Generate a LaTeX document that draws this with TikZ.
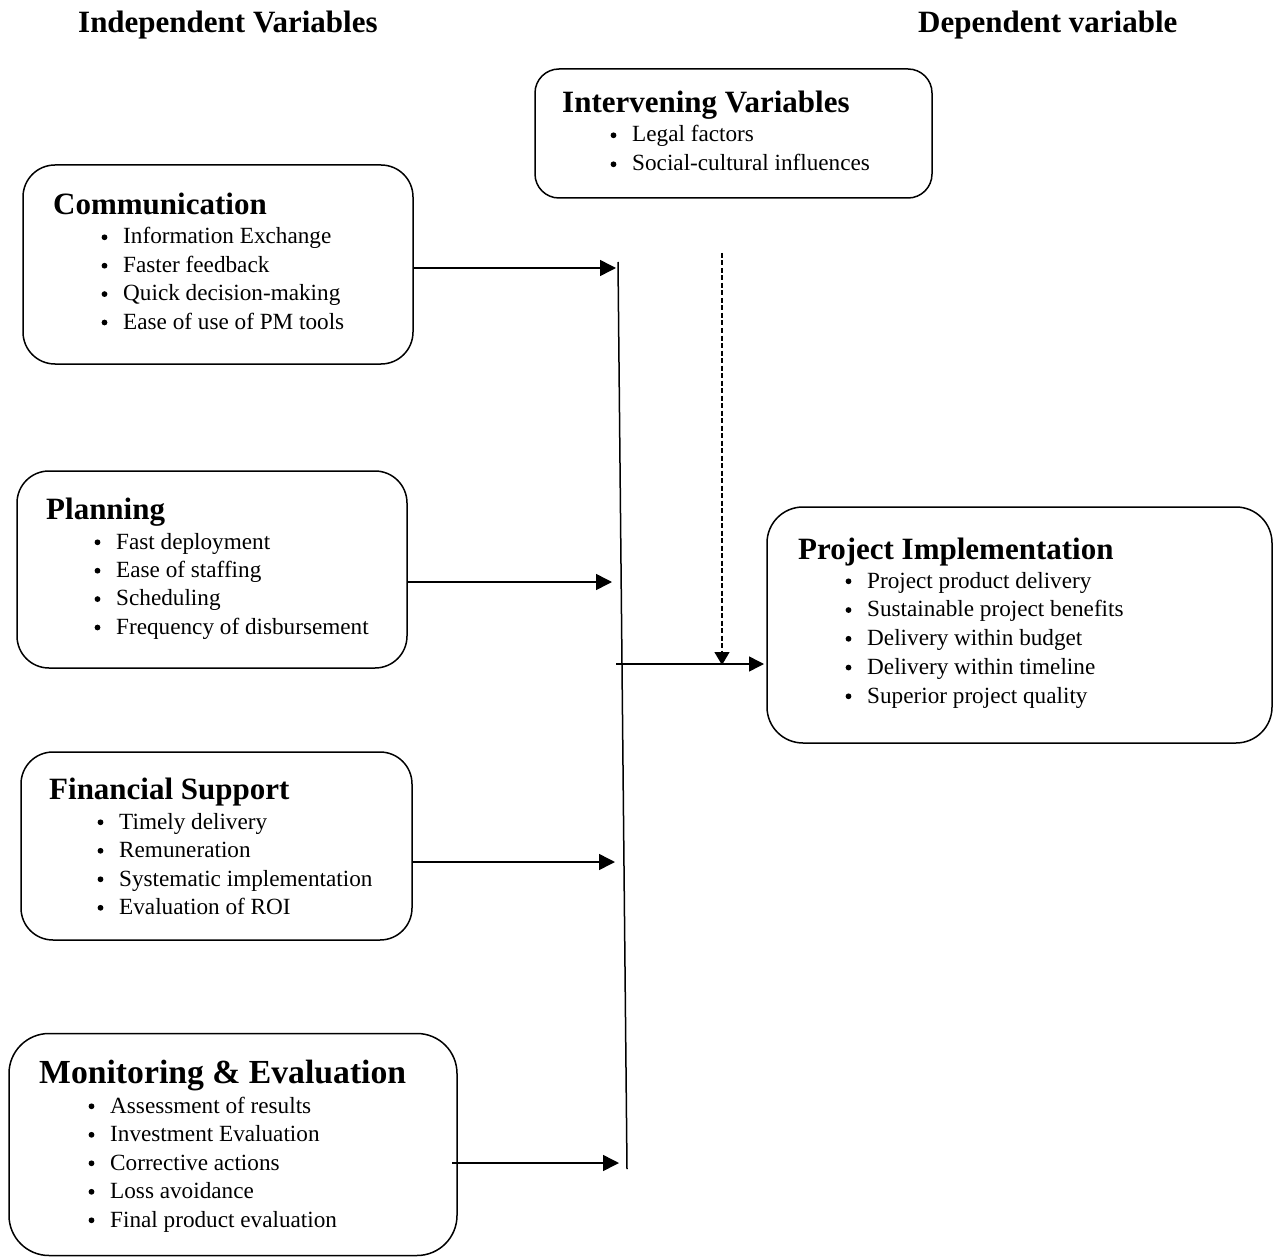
\documentclass[tikz,border=0pt]{standalone}
\usepackage{fontspec}
\setmainfont{Liberation Serif}
\usetikzlibrary{arrows.meta}
\tikzset{
  box/.style={draw, line width=1.5pt, rounded corners=32pt, inner sep=0pt, outer sep=0pt},
  hd/.style={anchor=base west, inner sep=0pt, font=\fontsize{31}{36}\selectfont\bfseries},
  bighd/.style={anchor=base west, inner sep=0pt, font=\fontsize{33.7}{38}\selectfont\bfseries},
  it/.style={anchor=base west, inner sep=0pt, font=\fontsize{23.2}{28}\selectfont},
  arr/.style={line width=1.5pt, -{Triangle[length=16pt,width=16pt]}},
  darr/.style={line width=1.3pt, dash pattern=on 5pt off 2.5pt, -{Triangle[length=13pt,width=15pt]}},
  dot/.style={radius=2.9pt},
}
\begin{document}
\begin{tikzpicture}[x=1pt,y=-1pt]
\useasboundingbox (0,0) rectangle (1277,1257);
% titles
\node[hd] (indep) at (78,33) {Independent Variables};
\node[hd] (dep) at (918,33) {Dependent variable};
% boxes
\node[box, rounded corners=24pt, minimum width=397pt, minimum height=129pt] (interv) at (733.5,133.5) {};
\node[box, minimum width=390pt, minimum height=199pt] (comm) at (218,264.5) {};
\node[box, minimum width=390pt, minimum height=197pt] (plan) at (212,569.5) {};
\node[box, minimum width=391pt, minimum height=188pt] (fin) at (216.5,846) {};
\node[box, rounded corners=40pt, minimum width=448pt, minimum height=222pt] (mne) at (233,1144.5) {};
\node[box, rounded corners=36pt, minimum width=505pt, minimum height=236pt] (proj) at (1019.5,625) {};
% texts
\node[hd] (interv-h) at (562,113) {Intervening Variables};
\foreach \t [count=\i] in {Legal factors, Social-cultural influences}{
  \node[it] (interv-\i) at (632,{142+29*(\i-1)}) {\t};
  \fill[dot] ([shift={(-18.5,-6.7)}]interv-\i.base west) circle;}
\node[hd] (comm-h) at (53,215) {Communication};
\foreach \t [count=\i] in {Information Exchange, Faster feedback, Quick decision-making, Ease of use of PM tools}{
  \node[it] (comm-\i) at (123,{244+28.4*(\i-1)}) {\t};
  \fill[dot] ([shift={(-18.5,-6.7)}]comm-\i.base west) circle;}
\node[hd] (plan-h) at (46,519) {Planning};
\foreach \t [count=\i] in {Fast deployment, Ease of staffing, Scheduling, Frequency of disbursement}{
  \node[it] (plan-\i) at (116,{549+28.4*(\i-1)}) {\t};
  \fill[dot] ([shift={(-18.5,-6.7)}]plan-\i.base west) circle;}
\node[hd] (fin-h) at (49,799) {Financial Support};
\foreach \t [count=\i] in {Timely delivery, Remuneration, Systematic implementation, Evaluation of ROI}{
  \node[it] (fin-\i) at (119,{829+28.5*(\i-1)}) {\t};
  \fill[dot] ([shift={(-18.5,-6.7)}]fin-\i.base west) circle;}
\node[bighd] (mne-h) at (39,1083) {Monitoring \& Evaluation};
\foreach \t [count=\i] in {Assessment of results, Investment Evaluation, Corrective actions, Loss avoidance, Final product evaluation}{
  \node[it] (mne-\i) at (110,{1113+28.5*(\i-1)}) {\t};
  \fill[dot] ([shift={(-18.5,-6.7)}]mne-\i.base west) circle;}
\node[hd] (proj-h) at (798,559) {Project Implementation};
\foreach \t [count=\i] in {Project product delivery, Sustainable project benefits, Delivery within budget, Delivery within timeline, Superior project quality}{
  \node[it] (proj-\i) at (867,{588+28.75*(\i-1)}) {\t};
  \fill[dot] ([shift={(-18.5,-6.7)}]proj-\i.base west) circle;}
% connectors
\coordinate (vtop) at (618,262);
\coordinate (vbot) at (627,1169);
\draw[line width=1.5pt] (vtop) -- (vbot);
\coordinate (cIn) at (616,268);
\coordinate (pIn) at (612,582);
\coordinate (fIn) at (615,862);
\coordinate (mIn) at (619,1163);
\draw[arr] (comm.east |- cIn) -- (cIn);
\draw[arr] (plan.east |- pIn) -- (pIn);
\draw[arr] (fin.east |- fIn) -- (fIn);
\draw[arr] ([xshift=-5pt]mne.east |- mIn) -- (mIn);
\coordinate (hstart) at (616,664);
\draw[arr, -{Triangle[length=15pt,width=15pt]}] (hstart) -- ([xshift=-3pt]proj.west |- hstart);
\coordinate (dtop) at (722,253);
\coordinate (dtip) at (722,665);
\draw[darr] (dtop) -- (dtip);
\end{tikzpicture}
\end{document}
